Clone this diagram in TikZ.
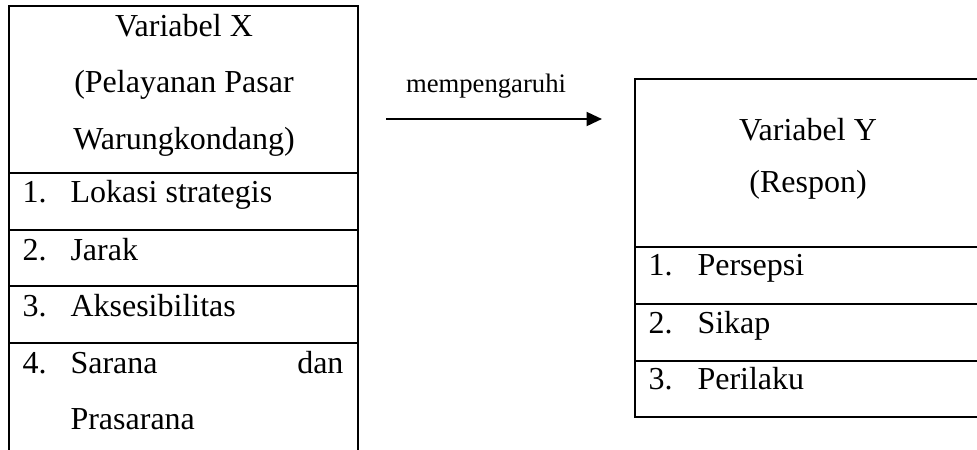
\documentclass[tikz,border=0pt]{standalone}
\usepackage{fontspec}
\setmainfont{Liberation Serif}
\usetikzlibrary{arrows.meta}
\begin{document}
\begin{tikzpicture}[x=0.375pt,y=-0.375pt,
  frame/.style={line width=0.6pt},
  cell/.style={font=\fontsize{12}{14}\selectfont, inner sep=0pt, anchor=base west},
  cellr/.style={font=\fontsize{12}{14}\selectfont, inner sep=0pt, anchor=base east},
  head/.style={font=\fontsize{12}{14}\selectfont, inner sep=0pt, anchor=base},
  lbl/.style={font=\fontsize{10}{12}\selectfont, inner sep=0pt, anchor=base},
  link/.style={line width=0.9pt, -{Triangle[length=5.8pt,width=5.2pt]}}]
\useasboundingbox (0,0) rectangle (977,450);
\clip (0,0) rectangle (977,450);

% --- Variable X table ---
\draw[frame] (9,460) -- (9,6) -- (358,6) -- (358,460);
\foreach \yy in {173,230,286,343} \draw[frame] (9,\yy) -- (358,\yy);
\node[head] (xh1) at (184,37) {Variabel X};
\node[head] (xh2) at (184,93) {(Pelayanan Pasar};
\node[head] (xh3) at (184,149) {Warungkondang)};
\node[cell] (xn1) at (22,202) {1.};
\node[cell] (xt1) at (70,202) {Lokasi strategis};
\node[cell] (xn2) at (22,260) {2.};
\node[cell] (xt2) at (70,260) {Jarak};
\node[cell] (xn3) at (22,317) {3.};
\node[cell] (xt3) at (70,317) {Aksesibilitas};
\node[cell] (xn4) at (22,373) {4.};
\node[cell] (xt4) at (70,373) {Sarana};
\node[cellr] (xt4b) at (344,373) {dan};
\node[cell] (xt4c) at (70,429) {Prasarana};

% --- Variable Y table ---
\draw[frame] (635,79) rectangle (981,417);
\foreach \yy in {247,304,361} \draw[frame] (635,\yy) -- (981,\yy);
\node[head] (yh1) at (808,140) {Variabel Y};
\node[head] (yh2) at (808,192) {(Respon)};
\node[cell] (yn1) at (648,275) {1.};
\node[cell] (yt1) at (697,275) {Persepsi};
\node[cell] (yn2) at (648,333) {2.};
\node[cell] (yt2) at (697,333) {Sikap};
\node[cell] (yn3) at (648,390) {3.};
\node[cell] (yt3) at (697,390) {Perilaku};

% --- influence arrow ---
\coordinate (arrS) at (386,119);
\coordinate (arrE) at (602,119);
\draw[link] (arrS) -- (arrE);
\node[lbl] (arrL) at (486,93) {mempengaruhi};
\end{tikzpicture}
\end{document}
